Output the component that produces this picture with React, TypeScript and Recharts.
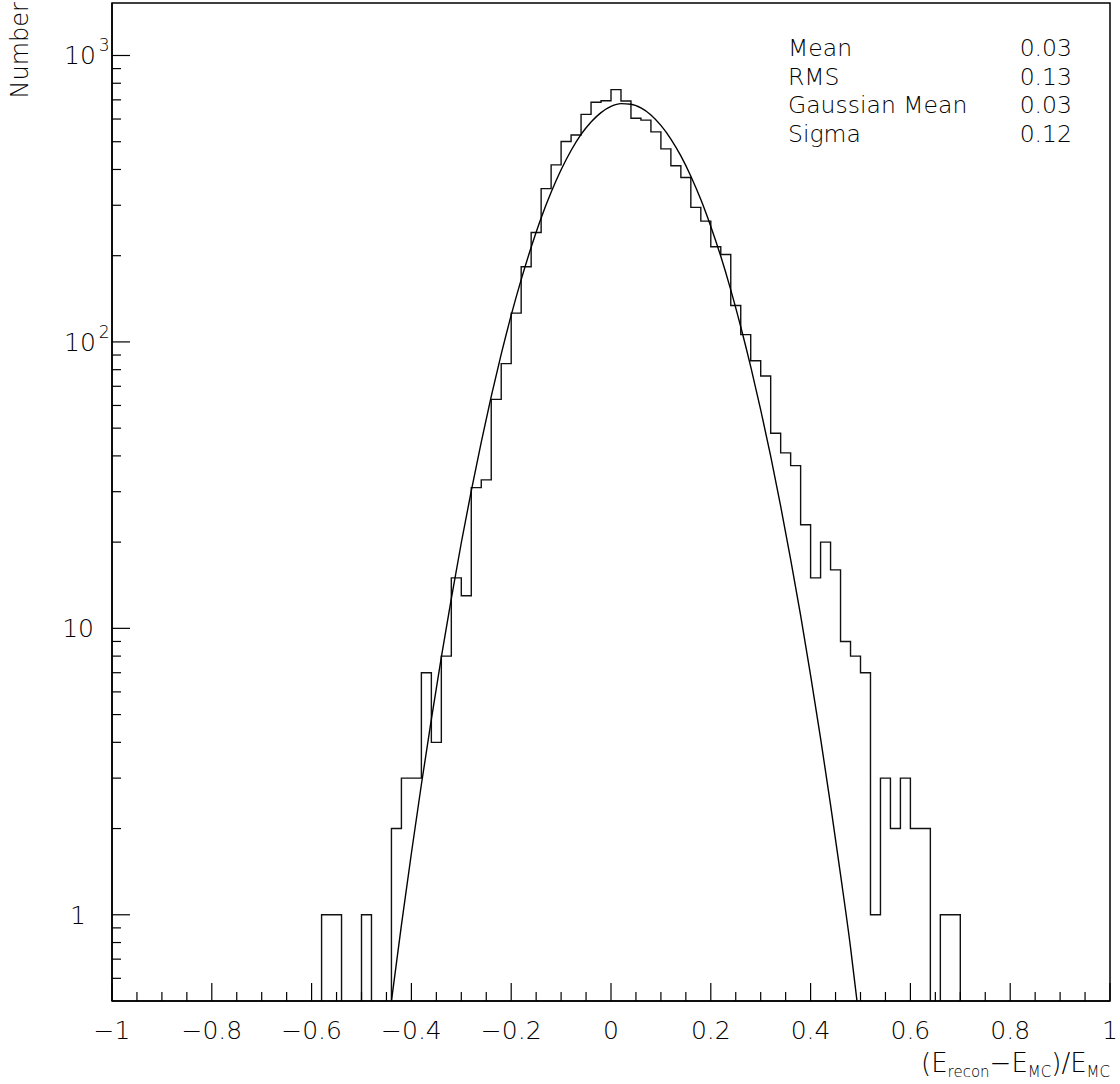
import { ComposedChart, Line, XAxis, YAxis, ReferenceArea } from 'recharts'

// histogram: 0.02 wide bins, counts listed from the first filled bin
const binWidth = 0.02
const firstBin = -0.58
const counts = [
  1, 1, 0, 0, 1, 0, 0, 2, 3, 3, 7, 4, 8, 15, 13, 31, 33, 63, 84, 126, 183, 241,
  343, 415, 501, 528, 623, 687, 695, 760, 694, 604, 595, 541, 472, 412, 375, 295,
  264, 215, 202, 134, 106, 86, 76, 48, 41, 37, 23, 15, 20, 16, 9, 8, 7, 1, 3, 2,
  3, 2, 2, 0, 1, 1,
]

// gaussian fit curve
const fitX = [
  -0.44, -0.42, -0.4, -0.38, -0.36, -0.34, -0.32, -0.3, -0.28, -0.26, -0.24, -0.22,
  -0.2, -0.18, -0.16, -0.14, -0.12, -0.1, -0.08, -0.06, -0.04, -0.02, 0, 0.02, 0.04,
  0.06, 0.08, 0.1, 0.12, 0.14, 0.16, 0.18, 0.2, 0.22, 0.24, 0.26, 0.28, 0.3, 0.32,
  0.34, 0.36, 0.38, 0.4, 0.42, 0.44, 0.46, 0.48, 0.493,
]
const fitY = [
  0.5, 0.92, 1.64, 2.85, 4.81, 7.93, 12.7, 19.9, 30.2, 44.7, 64.5, 90.6, 124, 165,
  214, 271, 333, 399, 466, 530, 586, 632, 664, 679, 676, 656, 620, 570, 511, 446,
  379, 314, 253, 199, 152, 113, 82, 57.9, 39.9, 26.7, 17.4, 11.1, 6.85, 4.13, 2.42,
  1.38, 0.77, 0.5,
]

const statNames = ['Mean', 'RMS', 'Gaussian Mean', 'Sigma']
const statValues = ['0.03', '0.13', '0.03', '0.12']

const xMajor = [-1, -0.8, -0.6, -0.4, -0.2, 0, 0.2, 0.4, 0.6, 0.8, 1]
const yMajor = [1, 10, 100, 1000]

const X_MIN = -1
const X_MAX = 1
const Y_MIN = 0.5
const Y_MAX = 1525
const FLOOR = 0.05 // empty bins, below the log axis

const W = 1120
const H = 1084
const LEFT = 112
const RIGHT = 1110
const TOP = 3
const BOTTOM = 1001
const FONT = "'DejaVu Sans', sans-serif"
const FW = 200

const histData = (() => {
  const nBins = Math.round((X_MAX - X_MIN) / binWidth)
  const rows: { x: number; y: number }[] = []
  for (let i = 0; i <= nBins; i++) {
    const x = X_MIN + i * binWidth
    const idx = Math.round((x - firstBin) / binWidth)
    const c = i < nBins && idx >= 0 && idx < counts.length ? counts[idx] : 0
    rows.push({ x, y: c > 0 ? c : FLOOR })
  }
  return rows
})()

const fitData = fitX.map((x, i) => ({ x, y: fitY[i] }))

const xTicks: number[] = []
for (let i = 0; i <= 40; i++) xTicks.push(Math.round((X_MIN + i * 0.05) * 100) / 100)

const yTicks: number[] = []
;[0.1, 1, 10, 100, 1000].forEach((d) => {
  for (let m = 1; m <= 9; m++) {
    const v = m * d
    if (v > Y_MIN && v < Y_MAX) yTicks.push(v)
  }
})

const fmtX = (v: number) => {
  const r = Math.round(v * 10) / 10
  const s = String(Math.abs(r))
  return r < 0 ? '\u2212' + s : s
}

const XTick = (props: any) => {
  const { x, payload } = props
  const v = payload.value
  const major = xMajor.some((m) => Math.abs(m - v) < 1e-6)
  return (
    <g>
      <line x1={x} x2={x} y1={BOTTOM} y2={BOTTOM - (major ? 18 : 9)} stroke="#000" strokeWidth={1.2} />
      {major && (
        <text x={x} y={BOTTOM + 38} textAnchor="middle" fontFamily={FONT} fontWeight={FW} fontSize={25} fill="#000">
          {fmtX(v)}
        </text>
      )}
    </g>
  )
}

const YTick = (props: any) => {
  const { y, payload } = props
  const v = payload.value
  const major = yMajor.includes(v)
  const exp = Math.round(Math.log10(v))
  return (
    <g>
      <line x1={LEFT} x2={LEFT + (major ? 18 : 9)} y1={y} y2={y} stroke="#000" strokeWidth={1.2} />
      {major && exp === 0 && (
        <text x={86} y={y + 9} textAnchor="end" fontFamily={FONT} fontWeight={FW} fontSize={25} fill="#000">
          1
        </text>
      )}
      {major && exp === 1 && (
        <text x={94} y={y + 9} textAnchor="end" fontFamily={FONT} fontWeight={FW} fontSize={25} fill="#000">
          10
        </text>
      )}
      {major && exp > 1 && (
        <text x={64} y={y + 9} fontFamily={FONT} fontWeight={FW} fontSize={25} fill="#000">
          10
          <tspan dx={3} dy={-13} fontSize={17}>
            {exp}
          </tspan>
        </text>
      )}
    </g>
  )
}

const App = () => {
  return (
    <div style={{ position: 'absolute', left: 0, top: 0, width: W, height: H, background: '#fff' }}>
      <ComposedChart width={W} height={H} margin={{ top: TOP, right: W - RIGHT, bottom: 0, left: 0 }}>
        <XAxis
          dataKey="x"
          type="number"
          domain={[X_MIN, X_MAX]}
          allowDataOverflow
          ticks={xTicks}
          interval={0}
          tick={<XTick />}
          tickLine={false}
          axisLine={{ stroke: '#000', strokeWidth: 1.5 }}
          height={H - BOTTOM}
        />
        <YAxis
          dataKey="y"
          scale="log"
          domain={[Y_MIN, Y_MAX]}
          allowDataOverflow
          ticks={yTicks}
          interval={0}
          tick={<YTick />}
          tickLine={false}
          axisLine={{ stroke: '#000', strokeWidth: 1.5 }}
          width={LEFT}
        />
        <ReferenceArea x1={X_MIN} x2={X_MAX} y1={Y_MIN} y2={Y_MAX} fill="none" stroke="#000" strokeWidth={1.5} />
        <Line
          data={histData}
          dataKey="y"
          type="stepAfter"
          stroke="#111"
          strokeWidth={1.4}
          dot={false}
          isAnimationActive={false}
        />
        <Line
          data={fitData}
          dataKey="y"
          type="monotone"
          stroke="#000"
          strokeWidth={1.4}
          dot={false}
          isAnimationActive={false}
        />
      </ComposedChart>
      <svg
        width={W}
        height={H}
        style={{ position: 'absolute', left: 0, top: 0, pointerEvents: 'none' }}
        fontFamily={FONT}
        fontWeight={FW}
        fill="#000"
      >
        <text transform="translate(28,2) rotate(-90)" textAnchor="end" fontSize={24}>
          Number
        </text>
        {statNames.map((n, i) => (
          <text key={n} x={788} y={56 + i * 28.5} fontSize={23.5}>
            {n}
          </text>
        ))}
        {statValues.map((v, i) => (
          <text key={'v' + i} x={1072} y={56 + i * 28.5} fontSize={23.5} textAnchor="end">
            {v}
          </text>
        ))}
        <text x={1110} y={1072} textAnchor="end" fontSize={26}>
          (E
          <tspan fontSize={15} dy={5}>recon</tspan>
          <tspan dy={-5}>{'\u2212'}E</tspan>
          <tspan fontSize={15} dy={5}>MC</tspan>
          <tspan dy={-5}>)/E</tspan>
          <tspan fontSize={15} dy={5}>MC</tspan>
        </text>
      </svg>
    </div>
  )
}

export default App
